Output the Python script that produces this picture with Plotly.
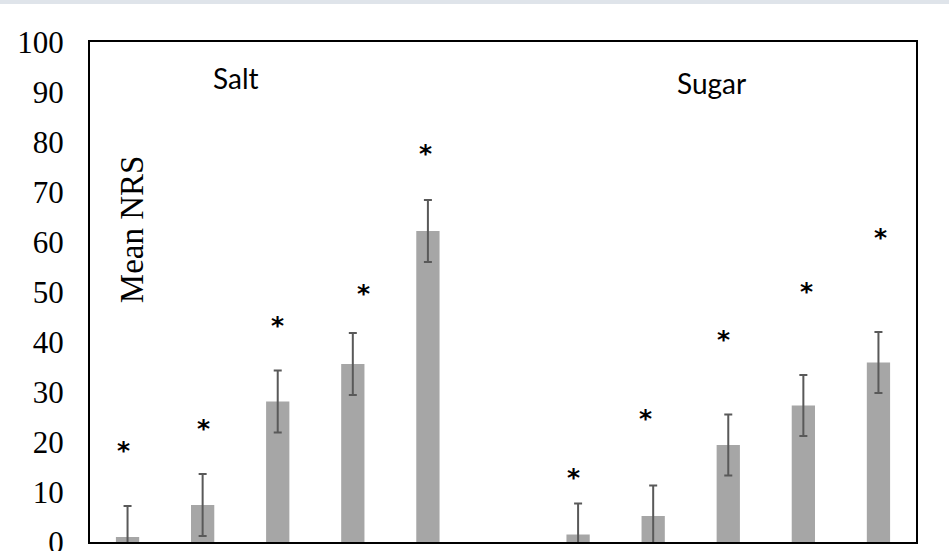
import plotly.graph_objects as go

# ---- data ----
categories = ["Salt 1", "Salt 2", "Salt 3", "Salt 4", "Salt 5", "gap",
              "Sugar 1", "Sugar 2", "Sugar 3", "Sugar 4", "Sugar 5"]
mean_nrs = [1.0, 7.4, 28.1, 35.6, 62.2, None, 1.5, 5.2, 19.4, 27.3, 35.9]
error = [6.2, 6.2, 6.2, 6.2, 6.2, None, 6.2, 6.1, 6.1, 6.1, 6.1]
star_y = [19.6, 24.0, 44.6, 50.9, 79.0, None, 14.1, 25.9, 41.7, 51.3, 62.2]
star_dx = [-4, 1, 0, 11, -2, 0, -5, -8, -5, 3, 2]
y_ticks = [0, 10, 20, 30, 40, 50, 60, 70, 80, 90, 100]
group_labels = ["Salt", "Sugar"]
group_label_x = [0.177, 0.753]
group_label_y = [92.8, 91.8]
y_title = "Mean NRS"

fig = go.Figure()
fig.add_trace(go.Bar(
    x=categories, y=mean_nrs, width=0.31,
    marker=dict(color="#a6a6a6", line=dict(width=0)),
    error_y=dict(type="data", array=error, visible=True,
                 color="#595959", thickness=2, width=4),
    showlegend=False,
))

annotations = []
for c, sy, dx in zip(categories, star_y, star_dx):
    if sy is None:
        continue
    annotations.append(dict(x=c, y=sy, xref="x", yref="y", text="<b>*</b>",
                            showarrow=False, xshift=dx, yshift=-6,
                            font=dict(family="DejaVu Sans", size=25, color="#000000"),
                            xanchor="center", yanchor="middle"))
for lbl, lx, ly in zip(group_labels, group_label_x, group_label_y):
    annotations.append(dict(x=lx, y=ly, xref="paper", yref="y", text=lbl,
                            showarrow=False,
                            font=dict(family="Lato", size=28, color="#000000"),
                            xanchor="center", yanchor="middle"))
annotations.append(dict(x=0.051, y=62.6, xref="paper", yref="y", text=y_title,
                        textangle=-90, showarrow=False,
                        font=dict(family="Liberation Serif", size=33, color="#000000"),
                        xanchor="center", yanchor="middle"))

fig.update_layout(
    width=949, height=551,
    margin=dict(l=90, r=33, t=42, b=9, autoexpand=False),
    paper_bgcolor="white", plot_bgcolor="white",
    annotations=annotations,
    shapes=[dict(type="rect", xref="paper", yref="paper",
                 x0=-0.2, x1=1.1, y0=1.076, y1=1.09,
                 fillcolor="#dfe4ea", line=dict(width=0), layer="below")],
    xaxis=dict(showticklabels=False, ticks="", showgrid=False, zeroline=False,
               showline=True, linecolor="black", linewidth=2, mirror=True,
               layer="below traces", range=[-0.5, 10.5], automargin=False),
    yaxis=dict(range=[0, 100], tickvals=y_ticks, ticks="", showgrid=False,
               zeroline=False, showline=True, linecolor="black", linewidth=2,
               mirror=True, layer="below traces", ticklabelstandoff=18,
               ticklabeloverflow="allow", automargin=False,
               tickfont=dict(family="Liberation Serif", size=31, color="#000000")),
)

fig.write_html("out.html", config={"displayModeBar": False},
               post_script="document.body.style.margin='0px';")
